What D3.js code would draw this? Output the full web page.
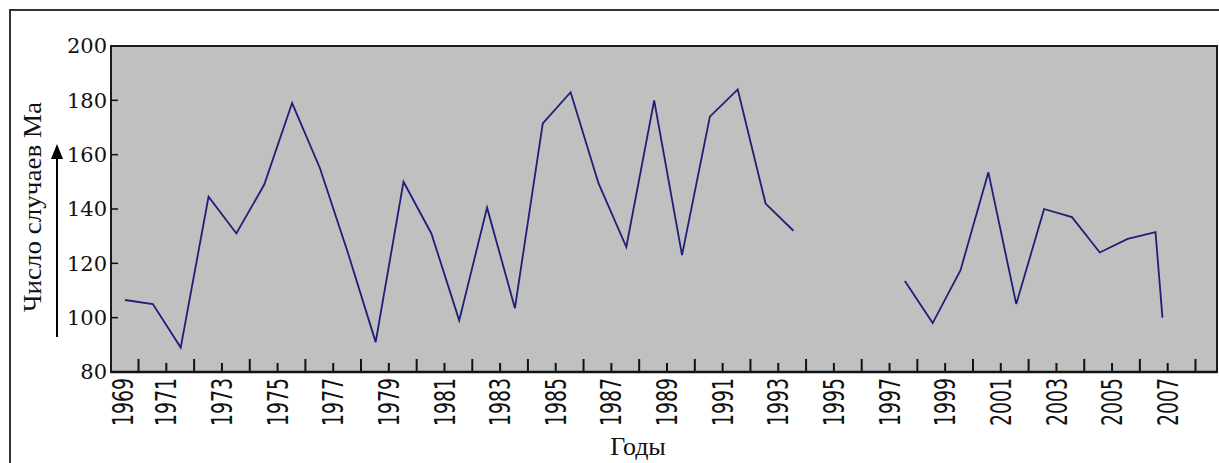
<!DOCTYPE html>
<html>
<head>
<meta charset="utf-8">
<script src="https://cdn.jsdelivr.net/npm/d3@7"></script>
<style>
  body { margin: 0; background: #fff; }
</style>
</head>
<body>
<script>
// values (gap 1994-1996 = no data)
const years = [1969, 1970, 1971, 1972, 1973, 1974, 1975, 1976, 1977, 1978,
               1979, 1980, 1981, 1982, 1983, 1984, 1985, 1986, 1987, 1988,
               1989, 1990, 1991, 1992, 1993, 1994, 1995, 1996, 1997, 1998,
               1999, 2000, 2001, 2002, 2003, 2004, 2005, 2006, 2006.25];
const cases = [106.5, 105, 89, 144.5, 131, 149, 179, 155, 124, 91,
               150, 131, 99, 140.5, 103.5, 171.5, 183, 149.5, 126, 180,
               123, 174, 184, 142, 132, null, null, null, 113.5, 98,
               117.5, 153.5, 105, 140, 137, 124, 129, 131.5, 100];
const yTicks = [80, 100, 120, 140, 160, 180, 200];
const xLabels = ['1969', '1971', '1973', '1975', '1977', '1979', '1981', '1983', '1985', '1987',
                 '1989', '1991', '1993', '1995', '1997', '1999', '2001', '2003', '2005', '2007'];
const tickYears = d3.range(1970, 2009);

const w = 1219;
const h = 463;
const margin = { top: 46, right: 2, bottom: 91, left: 111 };

const svg = d3.select('body').append('svg')
        .attr('width', w)
        .attr('height', h);

// outer frame
svg.append('rect')
        .attr('x', 10).attr('y', 10)
        .attr('width', 1240).attr('height', 480)
        .attr('fill', 'none')
        .attr('stroke', '#333')
        .attr('stroke-width', 2);

const x0 = margin.left, x1 = w - margin.right;
const yTop = margin.top, yBot = h - margin.bottom;

const yScale = d3.scaleLinear().domain([80, 200]).range([yBot, yTop]);
// points and the printed axis are not aligned in the original, so two scales
const xPts = d3.scaleLinear().domain([1969, 2006]).range([125, 1155.5]);
const xAxisScale = d3.scaleLinear().domain([1969, 1970, 2008]).range([123, 138.5, 1195.5]);

// plot area
svg.append('rect')
        .attr('x', x0).attr('y', yTop)
        .attr('width', x1 - x0).attr('height', yBot - yTop)
        .attr('fill', '#c0c0c0')
        .attr('stroke', '#1a1a1a')
        .attr('stroke-width', 2);

// y axis: small ticks inside the plot, labels outside
const yAxisG = svg.append('g')
        .attr('transform', `translate(${x0},0)`)
        .call(d3.axisLeft(yScale).tickValues(yTicks).tickSize(0).tickPadding(4));
yAxisG.select('.domain').remove();
yAxisG.selectAll('text')
        .attr('font-family', 'DejaVu Serif')
        .attr('font-size', 21)
        .attr('fill', '#111');

svg.append('g').selectAll('line')
        .data(yTicks.slice(1, -1))
        .enter()
        .append('line')
        .attr('x1', x0)
        .attr('x2', x0 + 7)
        .attr('y1', d => yScale(d))
        .attr('y2', d => yScale(d))
        .attr('stroke', '#111')
        .attr('stroke-width', 1.5);

// x tick marks pointing into the plot
svg.append('g').selectAll('line')
        .data(tickYears)
        .enter()
        .append('line')
        .attr('x1', d => xAxisScale(d))
        .attr('x2', d => xAxisScale(d))
        .attr('y1', yBot)
        .attr('y2', d => d % 2 === 0 ? yBot - 13 : yBot - 9)
        .attr('stroke', '#111')
        .attr('stroke-width', 2);

svg.append('line')
        .attr('x1', x0).attr('x2', x1)
        .attr('y1', yBot).attr('y2', yBot)
        .attr('stroke', '#111')
        .attr('stroke-width', 2.5);

// x tick labels, rotated
svg.append('g').selectAll('text')
        .data(xLabels)
        .enter()
        .append('text')
        .attr('transform', d => `translate(${xAxisScale(+d)},${yBot + 6}) rotate(-90)`)
        .attr('text-anchor', 'end')
        .attr('dy', '0.36em')
        .attr('font-family', 'DejaVu Sans')
        .attr('font-size', 28)
        .attr('textLength', 48)
        .attr('lengthAdjust', 'spacingAndGlyphs')
        .attr('fill', '#111')
        .text(d => d);

// data line
const line = d3.line()
        .defined(d => d.v != null)
        .x(d => xPts(d.year))
        .y(d => yScale(d.v));

const series = years.map((yr, i) => ({ year: yr, v: cases[i] }));

svg.append('path')
        .datum(series)
        .attr('d', line)
        .attr('fill', 'none')
        .attr('stroke', '#1e1e78')
        .attr('stroke-width', 1.8);

// axis titles
svg.append('text')
        .attr('transform', 'translate(32,207) rotate(-90)')
        .attr('text-anchor', 'middle')
        .attr('dy', '0.35em')
        .attr('font-family', 'Liberation Serif')
        .attr('font-size', 25)
        .attr('textLength', 210)
        .attr('lengthAdjust', 'spacingAndGlyphs')
        .attr('fill', '#111')
        .text('Число случаев Ма');

svg.append('text')
        .attr('x', 638)
        .attr('y', 455)
        .attr('text-anchor', 'middle')
        .attr('font-family', 'Liberation Serif')
        .attr('font-size', 26)
        .attr('fill', '#111')
        .text('Годы');

// arrow next to the y title
svg.append('line')
        .attr('x1', 57).attr('x2', 57)
        .attr('y1', 337).attr('y2', 156)
        .attr('stroke', '#000')
        .attr('stroke-width', 2);
svg.append('path')
        .attr('d', 'M57,144 L51,159 L63,159 Z')
        .attr('fill', '#000');
</script>
</body>
</html>
